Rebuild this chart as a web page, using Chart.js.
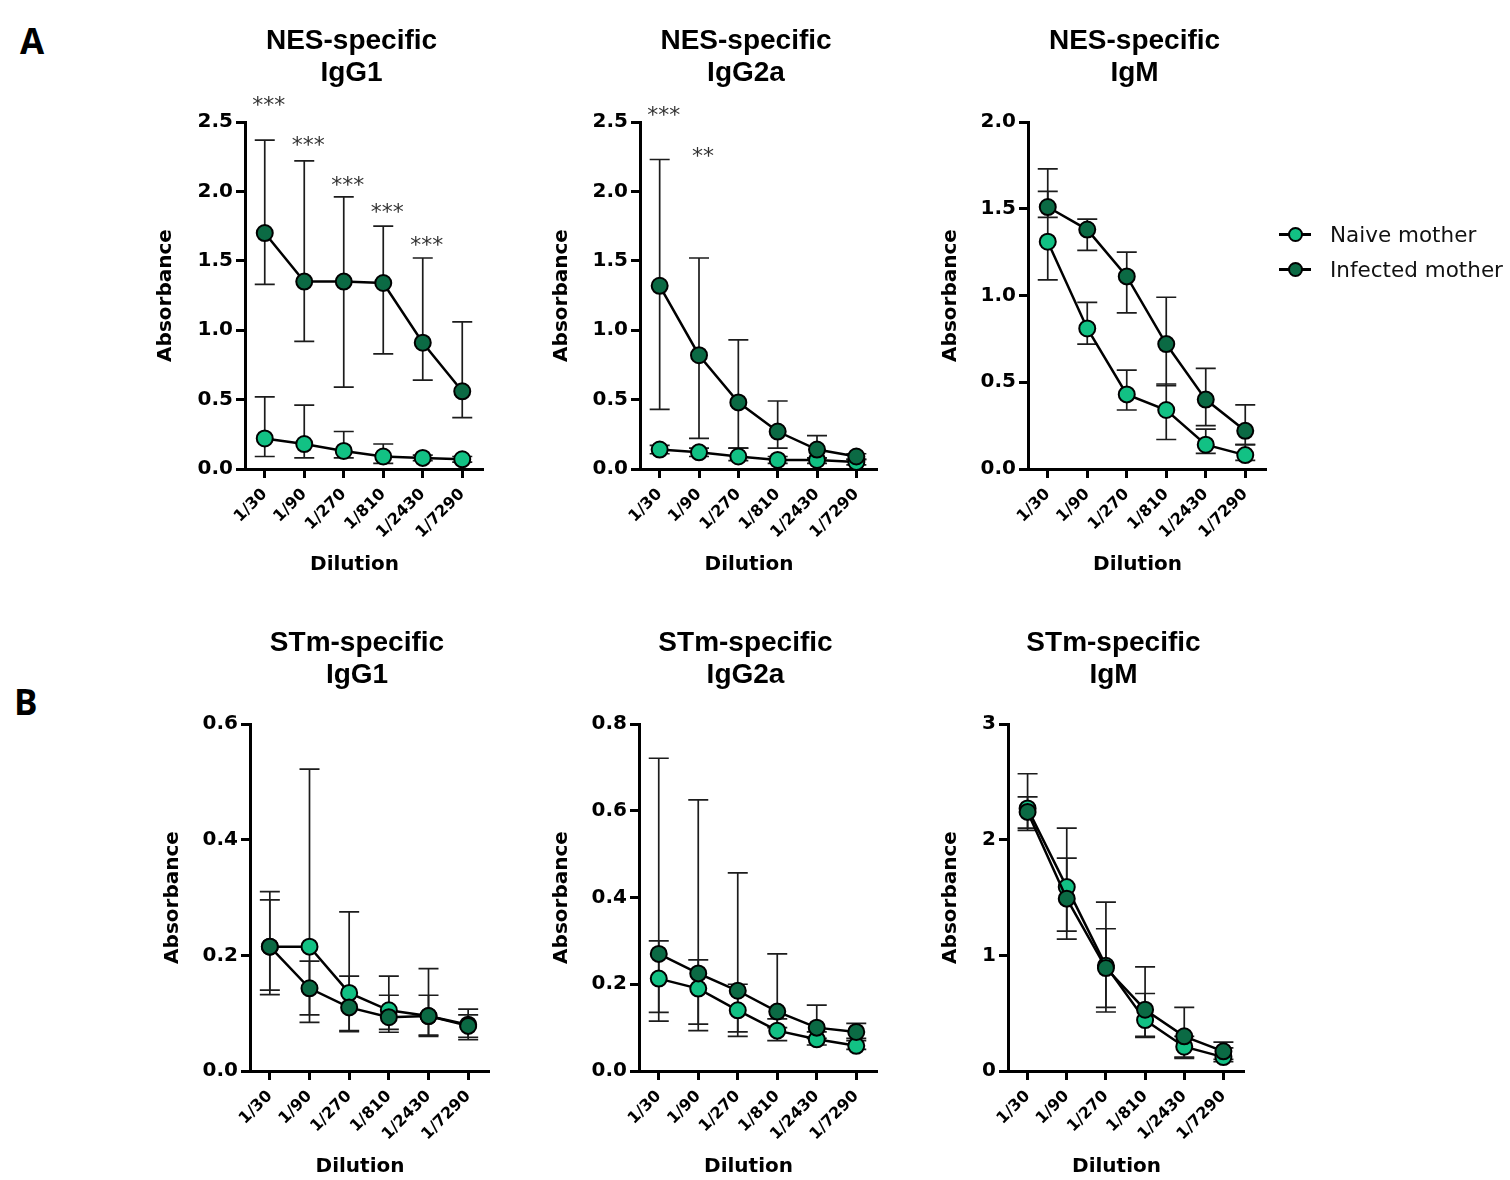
<!DOCTYPE html>
<html><head><meta charset="utf-8">
<script src="https://cdn.jsdelivr.net/npm/chart.js@4.4.0/dist/chart.umd.min.js"></script>
<style>
body{margin:0;background:#fff;width:1510px;height:1180px;position:relative;overflow:hidden}
canvas{position:absolute}
.plabel{position:absolute;font-family:'Open Sans',sans-serif;font-weight:700;font-size:35px;line-height:35px;color:#000}
#legend{position:absolute;left:1279px;top:217px;font-family:'DejaVu Sans',sans-serif;font-size:21.5px;color:#111}
#legend .row{height:35px;display:flex;align-items:center;white-space:nowrap}
#legend .mk{position:relative;width:32px;height:35px;margin-right:19px}
#legend .ln{position:absolute;left:0;top:16px;width:32px;height:3px;background:#000}
#legend .dot{position:absolute;left:9px;top:10px;width:11px;height:11px;border:2px solid #000;border-radius:50%}
</style></head><body>
<div class="plabel" style="left:20px;top:23px">A</div>
<div class="plabel" style="left:14px;top:684px">B</div>
<canvas id="cA1" width="500" height="600" style="left:0px;top:0px"></canvas>
<canvas id="cA2" width="400" height="600" style="left:500px;top:0px"></canvas>
<canvas id="cA3" width="380" height="600" style="left:900px;top:0px"></canvas>
<canvas id="cB1" width="500" height="580" style="left:0px;top:600px"></canvas>
<canvas id="cB2" width="400" height="580" style="left:500px;top:600px"></canvas>
<canvas id="cB3" width="380" height="580" style="left:900px;top:600px"></canvas>
<div id="legend"></div>
<script>
// ---------- data ----------
const dilutions = ['1/30','1/90','1/270','1/810','1/2430','1/7290'];
const naiveLabel = 'Naive mother';
const infectedLabel = 'Infected mother';
const yAxisTitle = 'Absorbance';
const xAxisTitle = 'Dilution';

// A - NES-specific IgG1
const nesIgG1Naive   = [0.22, 0.18, 0.13, 0.09, 0.08, 0.07];
const nesIgG1NaiveHi = [0.52, 0.46, 0.27, 0.18, 0.10, 0.09];
const nesIgG1NaiveLo = [0.09, 0.08, 0.08, 0.04, 0.06, 0.05];
const nesIgG1Inf     = [1.70, 1.35, 1.35, 1.34, 0.91, 0.56];
const nesIgG1InfHi   = [2.37, 2.22, 1.96, 1.75, 1.52, 1.06];
const nesIgG1InfLo   = [1.33, 0.92, 0.59, 0.83, 0.64, 0.37];
const nesIgG1Sig     = ['***', '***', '***', '***', '***', ''];
const nesIgG1SigAt   = [2.65, 2.36, 2.07, 1.88, 1.64, null];

// A - NES-specific IgG2a
const nesIgG2aNaive   = [0.14, 0.12, 0.09, 0.065, 0.065, 0.05];
const nesIgG2aNaiveHi = [0.17, 0.15, 0.15, 0.09, 0.08, 0.07];
const nesIgG2aNaiveLo = [0.11, 0.09, 0.06, 0.04, 0.04, 0.03];
const nesIgG2aInf     = [1.32, 0.82, 0.48, 0.27, 0.14, 0.09];
const nesIgG2aInfHi   = [2.23, 1.52, 0.93, 0.49, 0.24, 0.11];
const nesIgG2aInfLo   = [0.43, 0.22, 0.15, 0.15, 0.08, 0.07];
const nesIgG2aSig     = ['***', '**', '', '', '', ''];
const nesIgG2aSigAt   = [2.58, 2.28, null, null, null, null];

// A - NES-specific IgM
const nesIgMNaive   = [1.31, 0.81, 0.43, 0.34, 0.14, 0.08];
const nesIgMNaiveHi = [1.60, 0.96, 0.57, 0.49, 0.23, 0.14];
const nesIgMNaiveLo = [1.09, 0.72, 0.34, 0.17, 0.09, 0.05];
const nesIgMInf     = [1.51, 1.38, 1.11, 0.72, 0.40, 0.22];
const nesIgMInfHi   = [1.73, 1.44, 1.25, 0.99, 0.58, 0.37];
const nesIgMInfLo   = [1.45, 1.26, 0.90, 0.48, 0.25, 0.14];

// B - STm-specific IgG1
const stmIgG1Naive   = [0.215, 0.215, 0.135, 0.105, 0.095, 0.080];
const stmIgG1NaiveHi = [0.310, 0.522, 0.275, 0.164, 0.177, 0.107];
const stmIgG1NaiveLo = [0.132, 0.084, 0.070, 0.072, 0.060, 0.054];
const stmIgG1Inf     = [0.215, 0.143, 0.110, 0.093, 0.095, 0.078];
const stmIgG1InfHi   = [0.296, 0.190, 0.164, 0.131, 0.131, 0.097];
const stmIgG1InfLo   = [0.140, 0.097, 0.068, 0.067, 0.062, 0.058];

// B - STm-specific IgG2a
const stmIgG2aNaive   = [0.213, 0.190, 0.140, 0.093, 0.073, 0.058];
const stmIgG2aNaiveHi = [0.300, 0.256, 0.200, 0.120, 0.090, 0.070];
const stmIgG2aNaiveLo = [0.135, 0.108, 0.090, 0.070, 0.060, 0.050];
const stmIgG2aInf     = [0.270, 0.225, 0.185, 0.137, 0.100, 0.090];
const stmIgG2aInfHi   = [0.721, 0.625, 0.457, 0.270, 0.152, 0.110];
const stmIgG2aInfLo   = [0.115, 0.093, 0.080, 0.100, 0.075, 0.075];

// B - STm-specific IgM
const stmIgMNaive   = [2.27, 1.59, 0.91, 0.44, 0.21, 0.12];
const stmIgMNaiveHi = [2.57, 2.10, 1.46, 0.67, 0.30, 0.20];
const stmIgMNaiveLo = [2.10, 1.14, 0.51, 0.29, 0.11, 0.08];
const stmIgMInf     = [2.24, 1.49, 0.89, 0.53, 0.30, 0.17];
const stmIgMInfHi   = [2.37, 1.84, 1.23, 0.90, 0.55, 0.25];
const stmIgMInfLo   = [2.08, 1.21, 0.55, 0.30, 0.12, 0.10];

// y-axis ticks
const yTicks25 = [0, 0.5, 1.0, 1.5, 2.0, 2.5];
const yLabels25 = ['0.0', '0.5', '1.0', '1.5', '2.0', '2.5'];
const yTicks20 = [0, 0.5, 1.0, 1.5, 2.0];
const yLabels20 = ['0.0', '0.5', '1.0', '1.5', '2.0'];
const yTicks06 = [0, 0.2, 0.4, 0.6];
const yLabels06 = ['0.0', '0.2', '0.4', '0.6'];
const yTicks08 = [0, 0.2, 0.4, 0.6, 0.8];
const yLabels08 = ['0.0', '0.2', '0.4', '0.6', '0.8'];
const yTicks3 = [0, 1, 2, 3];
const yLabels3 = ['0', '1', '2', '3'];

// ---------- styles ----------
const NAIVE = '#12c184';
const INFECTED = '#0b6a44';
const FONT = 'DejaVu Sans';

const decor = {
  id: 'decor',
  beforeDatasetsDraw(chart) {
    const ctx = chart.ctx, xs = chart.scales.x, ys = chart.scales.y;
    ctx.save();
    ctx.strokeStyle = '#1c1c1c';
    ctx.lineWidth = 1.7;
    chart.data.datasets.forEach(ds => {
      ds.errHi.forEach((hi, i) => {
        const px = xs.getPixelForValue(i);
        const yh = ys.getPixelForValue(hi), yl = ys.getPixelForValue(ds.errLo[i]);
        ctx.beginPath();
        ctx.moveTo(px, yh); ctx.lineTo(px, yl);
        ctx.moveTo(px - 10, yh); ctx.lineTo(px + 10, yh);
        ctx.moveTo(px - 10, yl); ctx.lineTo(px + 10, yl);
        ctx.stroke();
      });
    });
    ctx.restore();
  },
  afterDraw(chart, args, opts) {
    const ctx = chart.ctx, ca = chart.chartArea, xs = chart.scales.x, ys = chart.scales.y;
    ctx.save();
    ctx.fillStyle = '#000';
    ctx.textAlign = 'center';
    ctx.textBaseline = 'middle';
    const cx = (ca.left + ca.right) / 2;
    ctx.font = 'bold 28px "Liberation Sans", Arial, sans-serif';
    ctx.fillText(opts.title[0], cx - 12, ca.top - 81);
    ctx.fillText(opts.title[1], cx - 12, ca.top - 49);
    ctx.font = 'bold 20px "DejaVu Sans", sans-serif';
    ctx.fillText(xAxisTitle, cx - 9, ca.bottom + 96);
    if (opts.sig) {
      ctx.font = '22px "DejaVu Sans", sans-serif';
      ctx.fillStyle = '#333';
      opts.sig.forEach((s, i) => {
        if (!s) return;
        ctx.fillText(s, xs.getPixelForValue(i) + 4, ys.getPixelForValue(opts.sigAt[i]) + 5);
      });
    }
    ctx.restore();
  }
};

function makePanel(p) {
  const common = {borderColor: '#000', borderWidth: 2.5, pointRadius: 8, pointBorderWidth: 2,
    pointBorderColor: '#000', pointHoverRadius: 8, tension: 0, clip: false};
  return new Chart(document.getElementById(p.id), {
    type: 'line',
    data: {
      labels: dilutions,
      datasets: [
        Object.assign({label: naiveLabel, data: p.naive, errHi: p.naiveHi, errLo: p.naiveLo,
          backgroundColor: NAIVE, pointBackgroundColor: NAIVE, order: 1}, common),
        Object.assign({label: infectedLabel, data: p.inf, errHi: p.infHi, errLo: p.infLo,
          backgroundColor: INFECTED, pointBackgroundColor: INFECTED, order: 0}, common)
      ]
    },
    options: {
      responsive: false, animation: false, devicePixelRatio: 1,
      layout: {padding: {left: p.pl, right: p.pr, top: p.pt, bottom: p.pb}},
      plugins: {legend: {display: false}, tooltip: {enabled: false},
        decor: {title: p.title, sig: p.sig, sigAt: p.sigAt}},
      scales: {
        x: {
          type: 'category', offset: true,
          grid: {offset: false, drawOnChartArea: false, drawTicks: true, tickLength: 9, color: '#000', lineWidth: 3},
          border: {display: true, color: '#000', width: 3},
          ticks: {autoSkip: false, maxRotation: 45, minRotation: 45, padding: 7, color: '#000',
            font: {family: FONT, weight: 'bold', size: 16}},
          title: {display: false},
          afterFit(s) { s.height = 108; }
        },
        y: {
          min: p.yTicks[0], max: p.yTicks[p.yTicks.length - 1],
          afterBuildTicks(s) { s.ticks = p.yTicks.map(v => ({value: v})); },
          grid: {drawOnChartArea: false, drawTicks: true, tickLength: 9, color: '#000', lineWidth: 3},
          border: {display: true, color: '#000', width: 3},
          ticks: {padding: 3, color: '#000', font: {family: FONT, weight: 'bold', size: 20},
            callback: (v, i) => p.yLabels[i]},
          title: {display: true, text: yAxisTitle, color: '#000', padding: 0,
            font: {family: FONT, weight: 'bold', size: 20}},
          afterFit(s) { s.width = p.yw; }
        }
      }
    },
    plugins: [decor]
  });
}

const panels = [
  {id: 'cA1', title: ['NES-specific', 'IgG1'], naive: nesIgG1Naive, naiveHi: nesIgG1NaiveHi, naiveLo: nesIgG1NaiveLo,
   inf: nesIgG1Inf, infHi: nesIgG1InfHi, infLo: nesIgG1InfLo, sig: nesIgG1Sig, sigAt: nesIgG1SigAt,
   yTicks: yTicks25, yLabels: yLabels25, pl: 154, pr: 18, pt: 122, pb: 23, yw: 91},
  {id: 'cA2', title: ['NES-specific', 'IgG2a'], naive: nesIgG2aNaive, naiveHi: nesIgG2aNaiveHi, naiveLo: nesIgG2aNaiveLo,
   inf: nesIgG2aInf, infHi: nesIgG2aInfHi, infLo: nesIgG2aInfLo, sig: nesIgG2aSig, sigAt: nesIgG2aSigAt,
   yTicks: yTicks25, yLabels: yLabels25, pl: 50, pr: 24, pt: 122, pb: 23, yw: 90},
  {id: 'cA3', title: ['NES-specific', 'IgM'], naive: nesIgMNaive, naiveHi: nesIgMNaiveHi, naiveLo: nesIgMNaiveLo,
   inf: nesIgMInf, infHi: nesIgMInfHi, infLo: nesIgMInfLo,
   yTicks: yTicks20, yLabels: yLabels20, pl: 39, pr: 15, pt: 122, pb: 23, yw: 89},
  {id: 'cB1', title: ['STm-specific', 'IgG1'], naive: stmIgG1Naive, naiveHi: stmIgG1NaiveHi, naiveLo: stmIgG1NaiveLo,
   inf: stmIgG1Inf, infHi: stmIgG1InfHi, infLo: stmIgG1InfLo,
   yTicks: yTicks06, yLabels: yLabels06, pl: 161, pr: 12, pt: 124, pb: 1, yw: 89},
  {id: 'cB2', title: ['STm-specific', 'IgG2a'], naive: stmIgG2aNaive, naiveHi: stmIgG2aNaiveHi, naiveLo: stmIgG2aNaiveLo,
   inf: stmIgG2aInf, infHi: stmIgG2aInfHi, infLo: stmIgG2aInfLo,
   yTicks: yTicks08, yLabels: yLabels08, pl: 50, pr: 24, pt: 124, pb: 1, yw: 89},
  {id: 'cB3', title: ['STm-specific', 'IgM'], naive: stmIgMNaive, naiveHi: stmIgMNaiveHi, naiveLo: stmIgMNaiveLo,
   inf: stmIgMInf, infHi: stmIgMInfHi, infLo: stmIgMInfLo,
   yTicks: yTicks3, yLabels: yLabels3, pl: 39, pr: 37, pt: 124, pb: 1, yw: 69}
];

const charts = panels.map(makePanel);

// HTML legend generated from the IgM chart's datasets
const legendEl = document.getElementById('legend');
charts[2].data.datasets.forEach(ds => {
  const row = document.createElement('div'); row.className = 'row';
  const mk = document.createElement('div'); mk.className = 'mk';
  const ln = document.createElement('div'); ln.className = 'ln';
  const dot = document.createElement('div'); dot.className = 'dot'; dot.style.background = ds.pointBackgroundColor;
  mk.appendChild(ln); mk.appendChild(dot);
  const tx = document.createElement('span'); tx.textContent = ds.label;
  row.appendChild(mk); row.appendChild(tx);
  legendEl.appendChild(row);
});
</script>
</body></html>
